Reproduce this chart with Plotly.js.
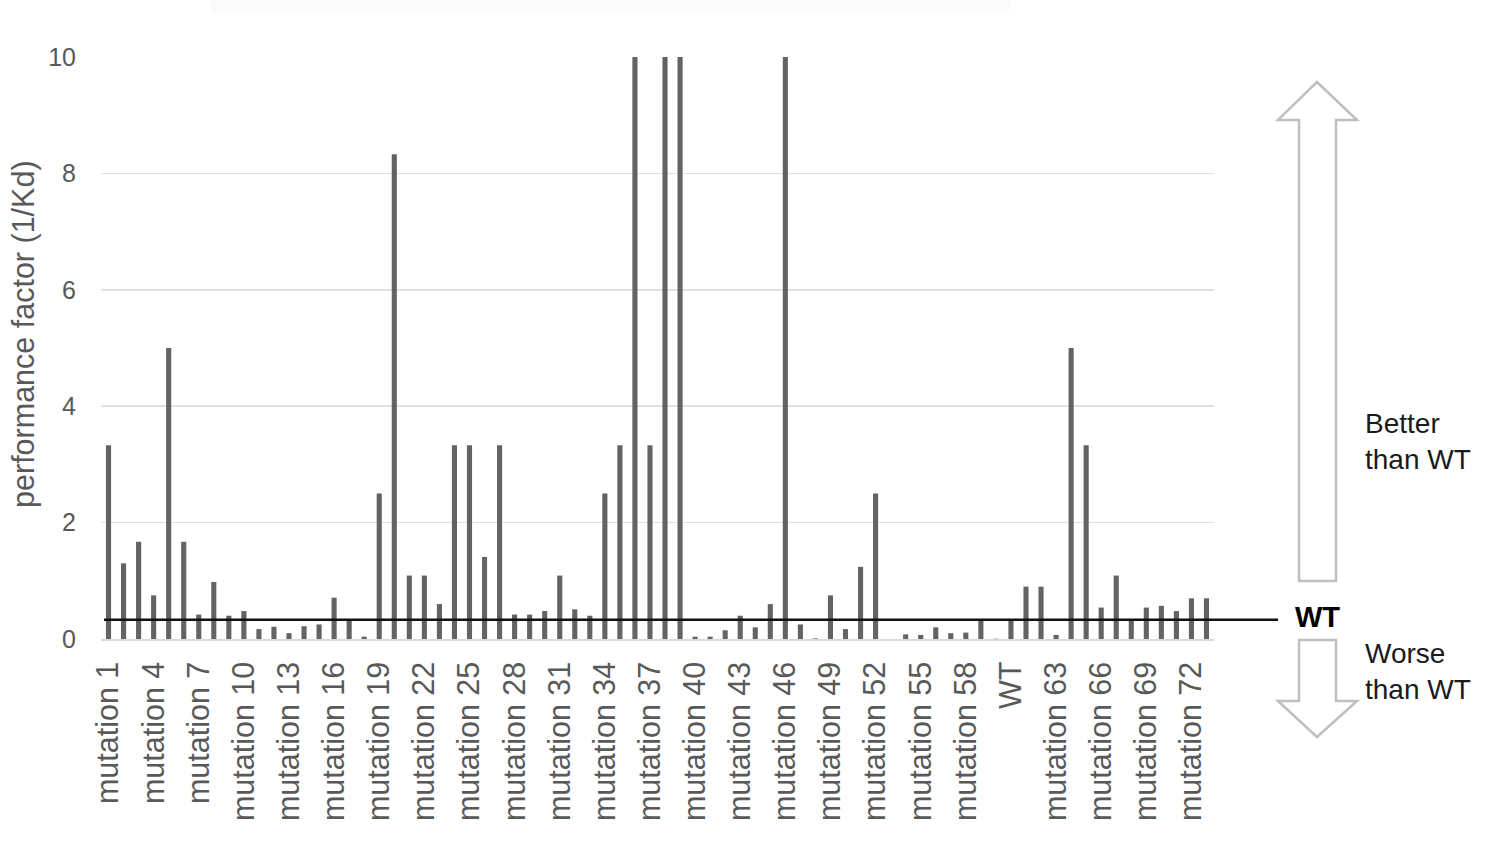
<!DOCTYPE html>
<html>
<head>
<meta charset="utf-8">
<script src="https://cdn.plot.ly/plotly-3.0.1.min.js"></script>
<style>html,body{margin:0;padding:0;background:#fff;}#chart{width:1500px;height:850px;}</style>
</head>
<body>
<div id="chart"></div>
<script>
const categories = [
  "mutation 1","mutation 2","mutation 3","mutation 4","mutation 5","mutation 6","mutation 7","mutation 8","mutation 9","mutation 10",
  "mutation 11","mutation 12","mutation 13","mutation 14","mutation 15","mutation 16","mutation 17","mutation 18","mutation 19","mutation 20",
  "mutation 21","mutation 22","mutation 23","mutation 24","mutation 25","mutation 26","mutation 27","mutation 28","mutation 29","mutation 30",
  "mutation 31","mutation 32","mutation 33","mutation 34","mutation 35","mutation 36","mutation 37","mutation 38","mutation 39","mutation 40",
  "mutation 41","mutation 42","mutation 43","mutation 44","mutation 45","mutation 46","mutation 47","mutation 48","mutation 49","mutation 50",
  "mutation 51","mutation 52","mutation 53","mutation 54","mutation 55","mutation 56","mutation 57","mutation 58","mutation 59","mutation 60",
  "WT","mutation 61","mutation 62","mutation 63","mutation 64","mutation 65","mutation 66","mutation 67","mutation 68","mutation 69",
  "mutation 70","mutation 71","mutation 72","mutation 73"
];
const performance = [
  3.33,1.30,1.67,0.75,5.00,1.67,0.42,0.98,0.40,0.48,
  0.17,0.21,0.10,0.22,0.25,0.71,0.34,0.04,2.50,8.33,
  1.09,1.09,0.60,3.33,3.33,1.41,3.33,0.42,0.42,0.48,
  1.09,0.51,0.40,2.50,3.33,10,3.33,10,10,0.04,
  0.04,0.15,0.40,0.20,0.60,10,0.25,0.01,0.75,0.17,
  1.24,2.50,0,0.08,0.07,0.20,0.10,0.11,0.32,0.005,
  0.33,0.90,0.90,0.07,5.00,3.33,0.54,1.09,0.34,0.54,
  0.57,0.48,0.70,0.70
];
const yTicks = [0,2,4,6,8,10];
const tickEvery = 3;
const yTitle = 'performance factor (1/Kd)';

const tickVals = categories.filter((c,i)=> i % tickEvery === 0);
const wtValue = performance[categories.indexOf("WT")];

// pixel -> paper helpers for decorations (plot area 101..1214 x 57..639)
const L=101, R=1214, T=57, B=639;
const px = X => ((X-L)/(R-L)).toFixed(4);
const py = Y => ((B-Y)/(B-T)).toFixed(4);
function path(pts){ return 'M' + pts.map(p=>px(p[0])+','+py(p[1])).join(' L') + ' Z'; }

const upArrow = path([[1317,82],[1357,120],[1336,120],[1336,581],[1299,581],[1299,120],[1278,120]]);
const downArrow = path([[1299,640],[1336,640],[1336,701],[1357,701],[1317,737],[1278,701],[1299,701]]);

const font = "Liberation Sans, Arial, sans-serif";
const trace = {
  type:'bar', x:categories, y:performance,
  marker:{color:'#636363', line:{width:0}},
  hoverinfo:'x+y'
};
const layout = {
  width:1500, height:850,
  margin:{l:L, r:1500-R, t:T, b:850-B},
  paper_bgcolor:'#ffffff', plot_bgcolor:'#ffffff',
  showlegend:false, bargap:0.66,
  font:{family:font, color:'#595959'},
  xaxis:{
    type:'category', tickmode:'array', tickvals:tickVals, ticktext:tickVals,
    tickangle:-90, tickfont:{size:30.5, color:'#595959', family:font},
    ticks:'', showgrid:false, showline:true, linecolor:'#d9d9d9', linewidth:1.5,
    ticklabelstandoff:9, automargin:false, fixedrange:true
  },
  yaxis:{
    range:[0,10], tickvals:yTicks, tickfont:{size:25, color:'#595959', family:font},
    showgrid:true, gridcolor:'#e0e0e0', gridwidth:1.5, zeroline:false, showline:false,
    ticks:'', ticklabelstandoff:24, automargin:false, fixedrange:true
  },
  shapes:[
    {type:'rect', xref:'paper', yref:'paper', x0:px(211), x1:px(1010), y0:py(12), y1:py(0),
     fillcolor:'#fbfbfb', line:{width:0}, layer:'below'},
    {type:'line', xref:'paper', yref:'y', x0:px(104), x1:px(1278), y0:wtValue, y1:wtValue,
     line:{color:'#111111', width:2.5}},
    {type:'path', xref:'paper', yref:'paper', path:upArrow, fillcolor:'rgba(255,255,255,0)',
     line:{color:'#bfbfbf', width:2.5}},
    {type:'path', xref:'paper', yref:'paper', path:downArrow, fillcolor:'rgba(255,255,255,0)',
     line:{color:'#bfbfbf', width:2.5}}
  ],
  annotations:[
    {xref:'paper', yref:'paper', x:px(24), y:py(334), text:yTitle, textangle:-90, showarrow:false,
     xanchor:'center', yanchor:'middle', font:{size:30.5, color:'#595959', family:font}},
    {xref:'paper', yref:'y', x:px(1318), y:wtValue, text:'<b>WT</b>', showarrow:false,
     xanchor:'center', yanchor:'middle', yshift:3, font:{size:29, color:'#000000', family:font}},
    {xref:'paper', yref:'paper', x:px(1363), y:py(441), text:'Better<br>than WT', showarrow:false,
     xanchor:'left', yanchor:'middle', align:'left', font:{size:28, color:'#1a1a1a', family:font}},
    {xref:'paper', yref:'paper', x:px(1363), y:py(671), text:'Worse<br>than WT', showarrow:false,
     xanchor:'left', yanchor:'middle', align:'left', font:{size:28, color:'#1a1a1a', family:font}}
  ]
};
Plotly.newPlot('chart', [trace], layout, {displayModeBar:false, staticPlot:true});
</script>
</body>
</html>
